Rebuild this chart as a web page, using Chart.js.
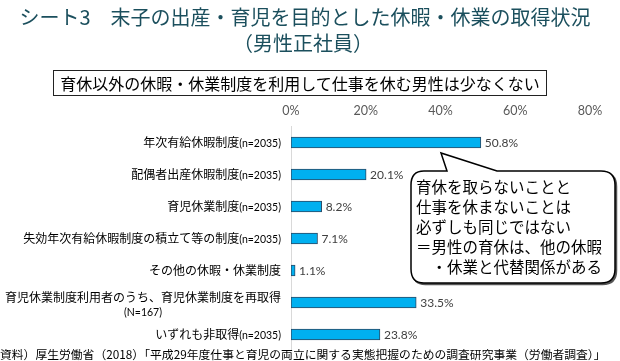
<!DOCTYPE html>
<html><head><meta charset="utf-8">
<script src="https://cdn.jsdelivr.net/npm/chart.js@4"></script>
<style>
html,body{margin:0;padding:0;background:#fff;}
#wrap{position:relative;width:620px;height:361px;overflow:hidden;font-family:"Noto Sans CJK JP",sans-serif;}
canvas{position:absolute;left:0;top:0;}
.t{position:absolute;white-space:nowrap;}
#title1{left:0;width:610px;text-align:center;top:3px;font-size:20px;line-height:27px;color:#1b4f5d;}
#title2{left:0;width:606px;text-align:center;top:29px;font-size:20px;line-height:27px;color:#1b4f5d;}
#sub{left:53px;top:70px;width:492px;height:24px;border:1px solid #222;font-size:16px;line-height:24px;text-align:center;color:#000;}
#callsvg{position:absolute;left:0;top:0;}
#call{left:416px;top:176px;font-size:15.5px;line-height:20px;color:#000;}
#foot{left:0;top:345px;font-size:11.8px;line-height:18px;color:#000;}
</style></head>
<body><div id="wrap">
<canvas id="c" width="620" height="361"></canvas>
<div class="t" id="title1">シート3　末子の出産・育児を目的とした休暇・休業の取得状況</div>
<div class="t" id="title2">（男性正社員）</div>
<div class="t" id="sub">育休以外の休暇・休業制度を利用して仕事を休む男性は少なくない</div>
<svg id="callsvg" width="620" height="361">
<path d="M424,171 L447,171 L441,153 L497,171 L601,171 Q615,171 615,185 L615,269 Q615,283 601,283 L424,283 Q411,283 411,269 L411,185 Q411,171 424,171 Z" fill="#555" stroke="#555" stroke-width="1.5" transform="translate(1.5,1.5)"/>
<path d="M424,171 L447,171 L441,153 L497,171 L601,171 Q615,171 615,185 L615,269 Q615,283 601,283 L424,283 Q411,283 411,269 L411,185 Q411,171 424,171 Z" fill="#fff" stroke="#000" stroke-width="1.5"/>
</svg>
<div class="t" id="call">育休を取らないことと<br>仕事を休まないことは<br>必ずしも同じではない<br>＝男性の育休は、他の休暇<br>&#12288;・休業と代替関係がある</div>
<div class="t" id="foot">資料）厚生労働省（2018）「平成29年度仕事と育児の両立に関する実態把握のための調査研究事業（労働者調査）」</div>
</div>
<script>
const categories = ['年次有給休暇制度','配偶者出産休暇制度','育児休業制度','失効年次有給休暇制度の積立て等の制度','その他の休暇・休業制度','育児休業制度利用者のうち、育児休業制度を再取得','いずれも非取得'];
const sampleSizes = ['(n=2035)','(n=2035)','(n=2035)','(n=2035)','','(N=167)','(n=2035)'];
const values = [50.8,20.1,8.2,7.1,1.1,33.5,23.8];
const axisMin = 0, axisMax = 80, axisStep = 20;

const JP = '"Noto Sans CJK JP", sans-serif';
const LAT = 'Lato, "Open Sans", sans-serif';

const catLabels = {
  id:'catLabels',
  afterDraw(chart){
    const ctx = chart.ctx, ys = chart.scales.y;
    const right = chart.chartArea.left - 10;
    ctx.save();
    ctx.textBaseline = 'middle';
    ctx.fillStyle = '#000';
    categories.forEach((cat,i)=>{
      const y = ys.getPixelForValue(i);
      const n = sampleSizes[i];
      if (n.startsWith('(N')) {
        ctx.font = '12px ' + JP;
        ctx.textAlign = 'right';
        const w = ctx.measureText(cat).width;
        ctx.fillText(cat, right, y - 5);
        ctx.font = '10.5px ' + LAT;
        ctx.textAlign = 'center';
        ctx.fillText(n, right - w/2, y + 10);
      } else {
        ctx.font = '10.5px ' + LAT;
        ctx.textAlign = 'right';
        const nw = n ? ctx.measureText(n).width : 0;
        if (n) ctx.fillText(n, right, y + 1);
        ctx.font = '12px ' + JP;
        ctx.fillText(cat, right - nw, y);
      }
    });
    ctx.restore();
  }
};
const valLabels = {
  id:'valLabels',
  afterDatasetsDraw(chart){
    const ctx = chart.ctx;
    const meta = chart.getDatasetMeta(0);
    ctx.save();
    ctx.font = '12px ' + LAT;
    ctx.fillStyle = '#404040';
    ctx.textAlign = 'left';
    ctx.textBaseline = 'middle';
    meta.data.forEach((el,i)=>{
      ctx.fillText(values[i].toFixed(1) + '%', el.x + 4, el.y + 1);
    });
    ctx.restore();
  }
};

new Chart(document.getElementById('c'), {
  type:'bar',
  data:{ labels:categories, datasets:[{ data:values, backgroundColor:'#00B0F0', borderColor:'#2b4a66', borderWidth:1, borderSkipped:false, barThickness:11 }]},
  options:{
    indexAxis:'y', responsive:false, animation:false, devicePixelRatio:1,
    layout:{padding:{left:283,right:30,top:92.5,bottom:10.5}},
    plugins:{legend:{display:false}, tooltip:{enabled:false}},
    scales:{
      x:{ position:'top', min:axisMin, max:axisMax,
          afterFit(scale){ scale.height = 34; },
          ticks:{stepSize:axisStep, padding:0, color:'#595959', font:{family:LAT,size:12.5}, callback:v=>v+'%'},
          grid:{display:false}, border:{display:false} },
      y:{ ticks:{display:false}, grid:{display:false}, border:{display:true,color:'#d9d9d9',width:1} }
    }
  },
  plugins:[catLabels, valLabels]
});
</script>
</body></html>
